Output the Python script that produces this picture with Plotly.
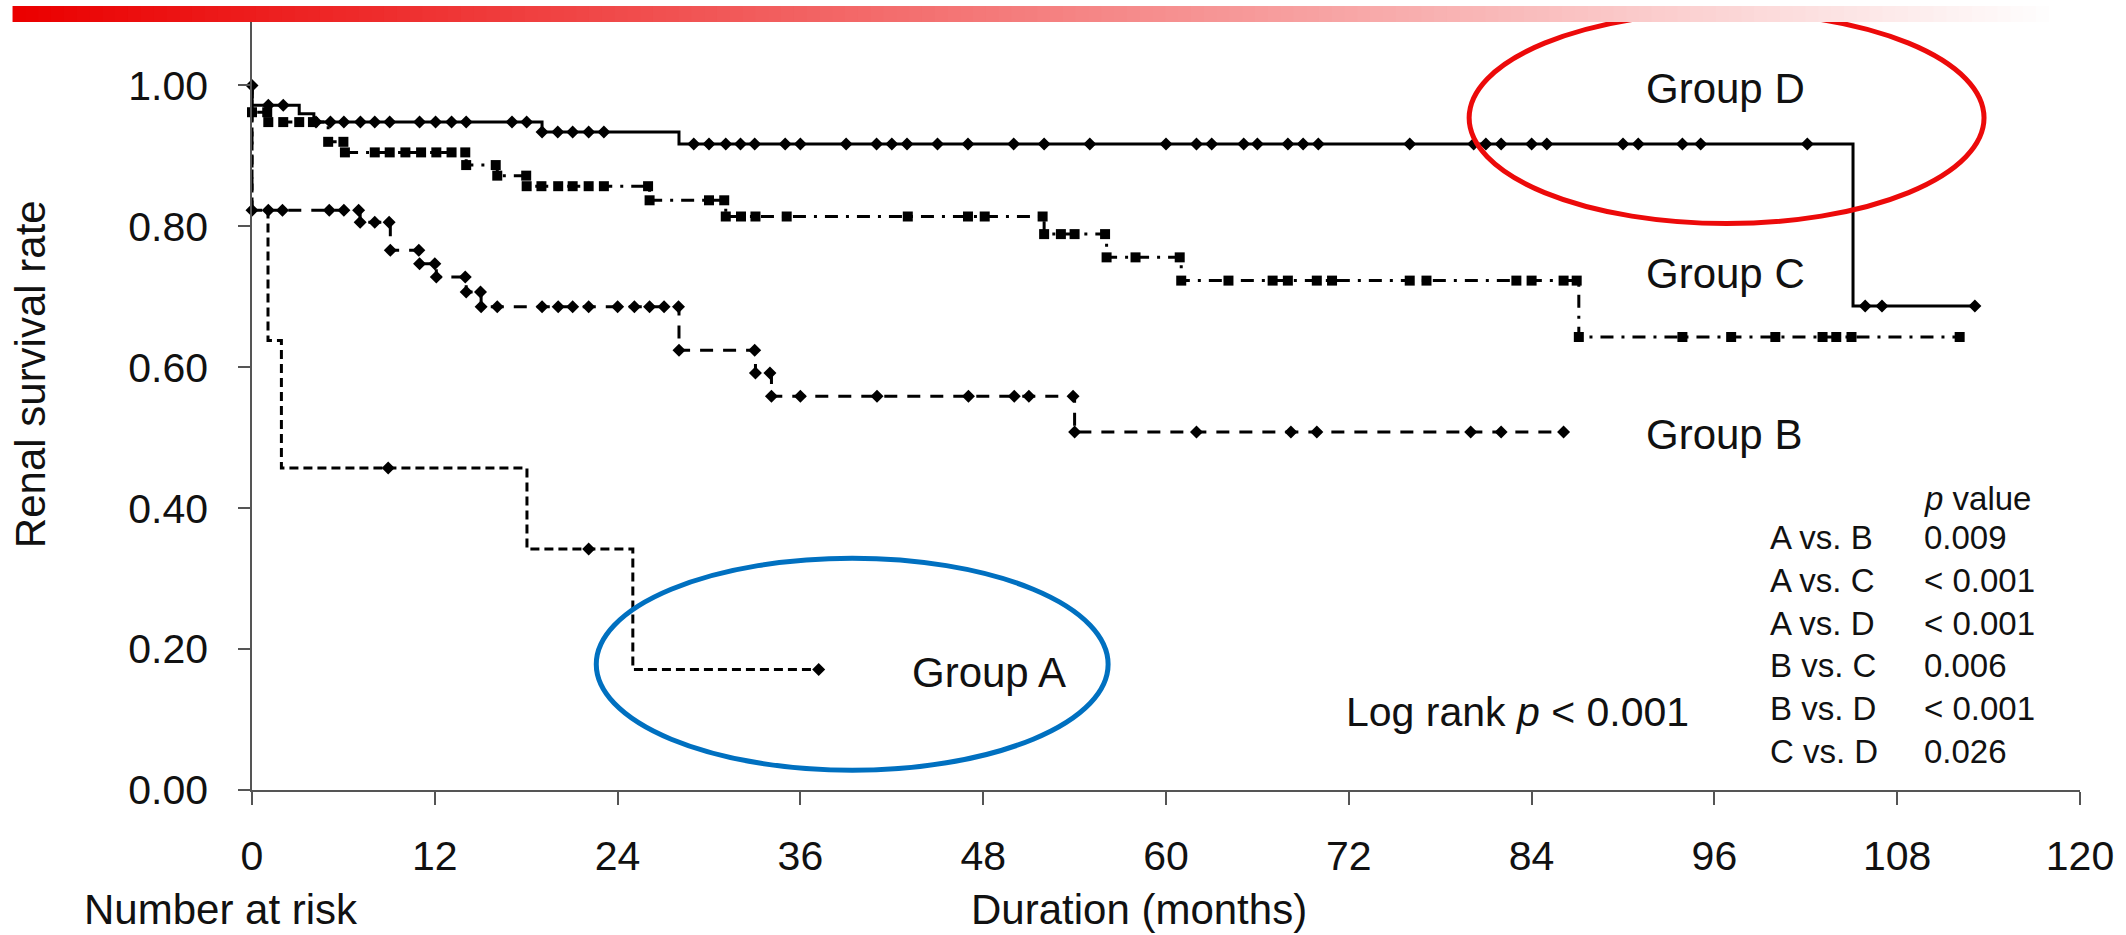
import plotly.graph_objects as go

# ---------------- data ----------------
# Kaplan-Meier step curves: value holds from each time onward
d_times = [0, 0, 3.1, 4.06, 19.04, 28.03, 105.1, 113.1]
d_surv = [1.0, 0.972, 0.960, 0.948, 0.934, 0.917, 0.687, 0.687]
d_censor = [1.07, 2.05, 4.2, 5.15, 6.03, 7.12, 8.06, 9.04, 11.0, 12.05, 13.1, 14.06,
            17.07, 18.03, 19.04, 20.07, 21.05, 22.1, 23.1, 29.0, 30.0, 31.1, 32.07,
            33.0, 35.0, 36.0, 39.0, 41.0, 42.0, 43.0, 45.0, 47.0, 50.0, 52.0, 55.0,
            60.0, 62.0, 63.0, 65.1, 66.0, 68.0, 69.0, 70.0, 76.0, 80.2, 81.0, 82.0,
            84.0, 85.0, 90.0, 91.0, 93.9, 95.1, 102.1, 105.9, 107.0, 113.1]

c_times = [0, 0, 1.07, 5.0, 6.1, 14.06, 16.1, 18.03, 26.1, 31.1, 52.0, 56.1, 61.0, 87.1, 112.1]
c_surv = [1.0, 0.962, 0.948, 0.920, 0.905, 0.887, 0.872, 0.857, 0.837, 0.814, 0.789,
          0.756, 0.723, 0.643, 0.643]
c_censor = [0, 1.0, 1.07, 2.05, 3.1, 4.0, 5.0, 6.0, 6.1, 8.06, 9.04, 10.07, 11.1, 12.1,
            13.1, 14.0, 14.06, 16.0, 16.1, 18.0, 18.03, 19.0, 20.1, 21.05, 22.1, 23.1,
            26.0, 26.1, 30.0, 31.0, 31.1, 32.1, 33.05, 35.1, 43.05, 47.0, 48.1, 51.9,
            52.0, 53.1, 54.0, 56.0, 56.1, 58.0, 60.9, 61.0, 64.1, 67.0, 68.0, 69.9,
            70.9, 76.0, 77.1, 83.0, 84.0, 86.1, 86.96, 87.1, 93.9, 97.1, 100.0, 103.1,
            104.0, 105.0, 112.1]

b_times = [0, 0, 7.1, 9.08, 11.0, 12.1, 14.06, 15.04, 28.03, 33.05, 34.1, 54.0, 86.1]
b_surv = [1.0, 0.823, 0.806, 0.766, 0.747, 0.728, 0.707, 0.686, 0.624, 0.592, 0.559,
          0.508, 0.508]
b_censor = [0, 1.07, 2.0, 5.07, 6.03, 7.0, 7.1, 8.06, 9.0, 9.08, 10.95, 11.0, 12.0, 12.1,
            14.0, 14.06, 15.0, 15.04, 16.1, 19.04, 20.1, 21.05, 22.1, 24.0, 25.1, 26.1,
            27.05, 28.0, 28.03, 33.0, 33.05, 34.0, 34.1, 36.0, 41.03, 47.03, 50.04, 51.0,
            53.9, 54.0, 62.0, 68.2, 69.9, 80.0, 82.0, 86.1]

a_times = [0, 0, 1.05, 1.93, 18.05, 25.0, 37.2]
a_surv = [1.0, 0.823, 0.638, 0.457, 0.342, 0.171, 0.171]
a_censor = [8.94, 22.1, 37.2]

start_time = [0]
start_surv = [1.0]

x_ticks = [0, 12, 24, 36, 48, 60, 72, 84, 96, 108, 120]
y_ticks = [0.0, 0.2, 0.4, 0.6, 0.8, 1.0]

comparisons = ["A vs. B", "A vs. C", "A vs. D", "B vs. C", "B vs. D", "C vs. D"]
p_values = ["0.009", "&lt; 0.001", "&lt; 0.001", "0.006", "&lt; 0.001", "0.026"]


def km_at(times, surv, t):
    v = surv[0]
    for ti, si in zip(times, surv):
        if ti <= t:
            v = si
    return v


FONT = "Liberation Sans, Arial, sans-serif"
INK = "#111111"
AX = "#555555"

fig = go.Figure()

groups = [
    (d_times, d_surv, d_censor, "solid", "diamond", 10),
    (c_times, c_surv, c_censor, "13px,8px,3px,8px", "square", 10),
    (b_times, b_surv, b_censor, "13px,10px", "diamond", 10),
    (a_times, a_surv, a_censor, "9px,5px", "diamond", 10),
]
for times, surv, cens, dash, sym, msize in groups:
    fig.add_trace(go.Scatter(x=times, y=surv, mode="lines", line_shape="hv",
                             line=dict(color="black", width=3, dash=dash),
                             cliponaxis=False, hoverinfo="skip"))
    fig.add_trace(go.Scatter(x=cens, y=[km_at(times, surv, t) for t in cens],
                             mode="markers", cliponaxis=False,
                             marker=dict(symbol=sym, size=msize, color="black")))

fig.add_trace(go.Scatter(x=start_time, y=start_surv, mode="markers", cliponaxis=False,
                         marker=dict(symbol="diamond", size=10, color="black")))

fig.update_layout(
    width=2126, height=935,
    margin=dict(l=252, r=42, t=15, b=145),
    plot_bgcolor="white", paper_bgcolor="white",
    showlegend=False,
    font=dict(family=FONT, color=INK, size=41),
)
fig.update_xaxes(range=[0, 120], tickvals=x_ticks, ticktext=[str(v) for v in x_ticks],
                 ticks="outside", ticklen=13, tickwidth=1.5, tickcolor=AX,
                 showline=True, linecolor=AX, linewidth=1.5, showgrid=False,
                 zeroline=False, tickfont=dict(size=41, color=INK, family=FONT),
                 ticklabelstandoff=16)
fig.update_yaxes(range=[0, 1.1], tickvals=y_ticks, ticktext=[f"{v:.2f}" for v in y_ticks],
                 ticks="outside", ticklen=12, tickwidth=1.5, tickcolor=AX,
                 showline=True, linecolor=AX, linewidth=1.5, showgrid=False,
                 zeroline=False, tickfont=dict(size=41, color=INK, family=FONT),
                 ticklabelstandoff=22)

ann = []
def txt(text, x, y, size=42, xanchor="left", xref="x", yref="y", angle=0, yanchor="middle"):
    ann.append(dict(text=text, x=x, y=y, xref=xref, yref=yref, showarrow=False,
                    xanchor=xanchor, yanchor=yanchor, textangle=angle,
                    font=dict(size=size, color=INK, family=FONT)))

txt("Group D", 91.4, 0.996)
txt("Group C", 91.4, 0.733)
txt("Group B", 91.4, 0.504)
txt("Group A", 43.2, 0.167)
txt("Log rank <i>p</i> &lt; 0.001", 71.7, 0.111, size=41)
txt("<i>p</i> value", 109.6, 0.414, size=33)
row_y = [0.359, 0.298, 0.237, 0.177, 0.116, 0.054]
for cmp_, pv, yy in zip(comparisons, p_values, row_y):
    txt(cmp_, 99.5, yy, size=33)
    txt(pv, 109.6, yy, size=33)

txt("Renal survival rate", -0.121, 0.59, size=42, xanchor="center", xref="paper", angle=-90)
txt("Number at risk", -0.093, -0.187, size=42, xref="paper", yref="paper", yanchor="bottom")
txt("Duration (months)", 58.2, -0.187, size=42, xanchor="center", yref="paper", yanchor="bottom")
fig.update_layout(annotations=ann)

shapes = []
# ellipses
shapes.append(dict(type="circle", xref="x", yref="y", x0=79.9, x1=113.7, y0=0.804, y1=1.104,
                   line=dict(color="rgb(236,10,10)", width=5), layer="above"))
shapes.append(dict(type="circle", xref="x", yref="y", x0=22.6, x1=56.2, y0=0.028, y1=0.329,
                   line=dict(color="rgb(0,112,192)", width=5), layer="above"))
# gradient banner at top
n_seg = 160
bx0, bx1 = -0.131, 0.990
by0, by1 = 0.991, 1.0116
for i in range(n_seg):
    f = i / (n_seg - 1)
    r = int(235 + (255 - 235) * f)
    g = int(0 + 255 * f)
    b = int(0 + 255 * f)
    xa = bx0 + (bx1 - bx0) * i / n_seg
    xb = bx0 + (bx1 - bx0) * (i + 1.3) / n_seg
    shapes.append(dict(type="rect", xref="paper", yref="paper", x0=xa, x1=min(xb, bx1),
                       y0=by0, y1=by1, fillcolor=f"rgb({r},{g},{b})",
                       line=dict(width=0), layer="above"))
fig.update_layout(shapes=shapes)

fig.write_html("out.html", config={"displayModeBar": False},
               post_script="document.body.style.margin='0';")
